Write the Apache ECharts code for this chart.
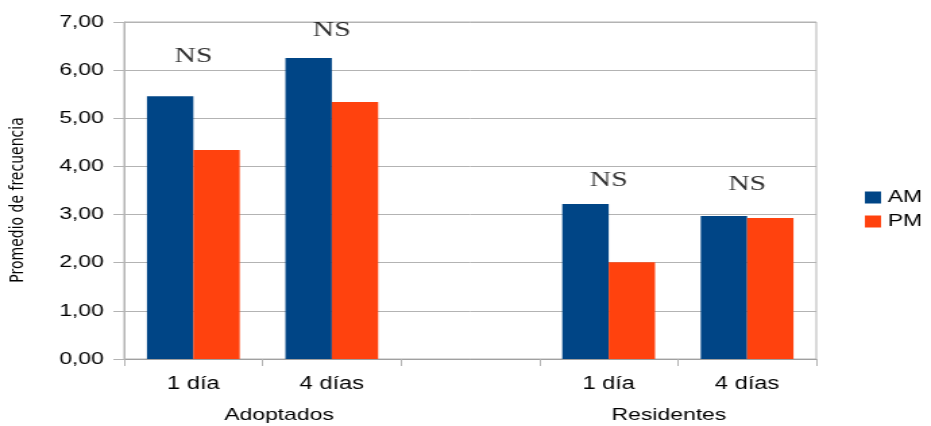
<!DOCTYPE html>
<html><head><meta charset="utf-8">
<script src="https://cdn.jsdelivr.net/npm/echarts/dist/echarts.min.js"></script>
<style>
html,body{margin:0;padding:0;background:#fff;overflow:hidden;width:931px;height:426px}
#c{width:690px;height:426px;transform:scaleX(1.349275);transform-origin:0 0;}
</style>
</head><body><div id="c"></div>
<script>
const categories = ['1 día', '4 días', '', '1 día', '4 días'];
const amValues = [5.46, 6.25, null, 3.22, 2.97];
const pmValues = [4.34, 5.34, null, 2.01, 2.93];
const nsLabelY = [6.29, 6.83, null, 3.72, 3.64];
const nsText = 'NS';
const groupLabels = ['Adoptados', 'Residentes'];
const seriesNames = ['AM', 'PM'];
const yTitle = 'Promedio de frecuencia';

const chart = echarts.init(document.getElementById('c'));
const grey = '#b3b3b3';
chart.setOption({
  animation: false,
  backgroundColor: '#fff',
  grid: { left: 92, top: 22, width: 513, height: 337, show: true, borderColor: grey, borderWidth: 1,
    backgroundColor: 'transparent', containLabel: false, outerBoundsMode: 'none' },
  legend: {
    data: seriesNames, orient: 'vertical', left: 636, top: 184, padding: 5,
    itemWidth: 12, itemHeight: 12, itemGap: 7, icon: 'rect',
    textStyle: { fontFamily: 'Liberation Sans', fontSize: 17, color: '#000' }
  },
  xAxis: {
    type: 'category', data: categories,
    axisLine: { lineStyle: { color: '#a0a0a0', width: 1 } },
    axisTick: { show: true, length: 7, lineStyle: { color: grey } },
    axisLabel: { fontFamily: 'Liberation Sans', fontSize: 17.5, color: '#000', margin: 16 },
    splitLine: { show: false }
  },
  yAxis: {
    type: 'value', min: 0, max: 7, interval: 1,
    axisLine: { show: true, lineStyle: { color: grey } },
    axisTick: { show: true, length: 8, lineStyle: { color: grey } },
    axisLabel: { fontFamily: 'Liberation Sans', fontSize: 17, color: '#000', margin: 15,
      formatter: v => v.toFixed(2).replace('.', ',') },
    splitLine: { show: true, lineStyle: { color: grey } }
  },
  series: [
    { name: seriesNames[0], type: 'bar', data: amValues, barGap: '0%', barCategoryGap: '33%', itemStyle: { color: '#004586' } },
    { name: seriesNames[1], type: 'bar', data: pmValues, barGap: '0%', barCategoryGap: '33%', itemStyle: { color: '#ff420e' } },
    { name: 'ns', type: 'scatter', data: nsLabelY, symbolSize: 0, silent: true,
      label: { show: true, position: 'inside', formatter: nsText, fontFamily: 'Liberation Serif', fontSize: 22, color: '#000' } }
  ],
  graphic: [
    { type: 'text', x: 13.5, y: 200, rotation: Math.PI / 2,
      style: { text: yTitle, font: '14px "DejaVu Sans"', fill: '#000', textAlign: 'center', textVerticalAlign: 'middle' } },
    { type: 'text', x: 206.8, y: 415, style: { text: groupLabels[0], font: '17px "Liberation Sans"', fill: '#000', textAlign: 'center', textVerticalAlign: 'middle' } },
    { type: 'text', x: 495.8, y: 415, style: { text: groupLabels[1], font: '17px "Liberation Sans"', fill: '#000', textAlign: 'center', textVerticalAlign: 'middle' } }
  ]
});
</script>
</body></html>
